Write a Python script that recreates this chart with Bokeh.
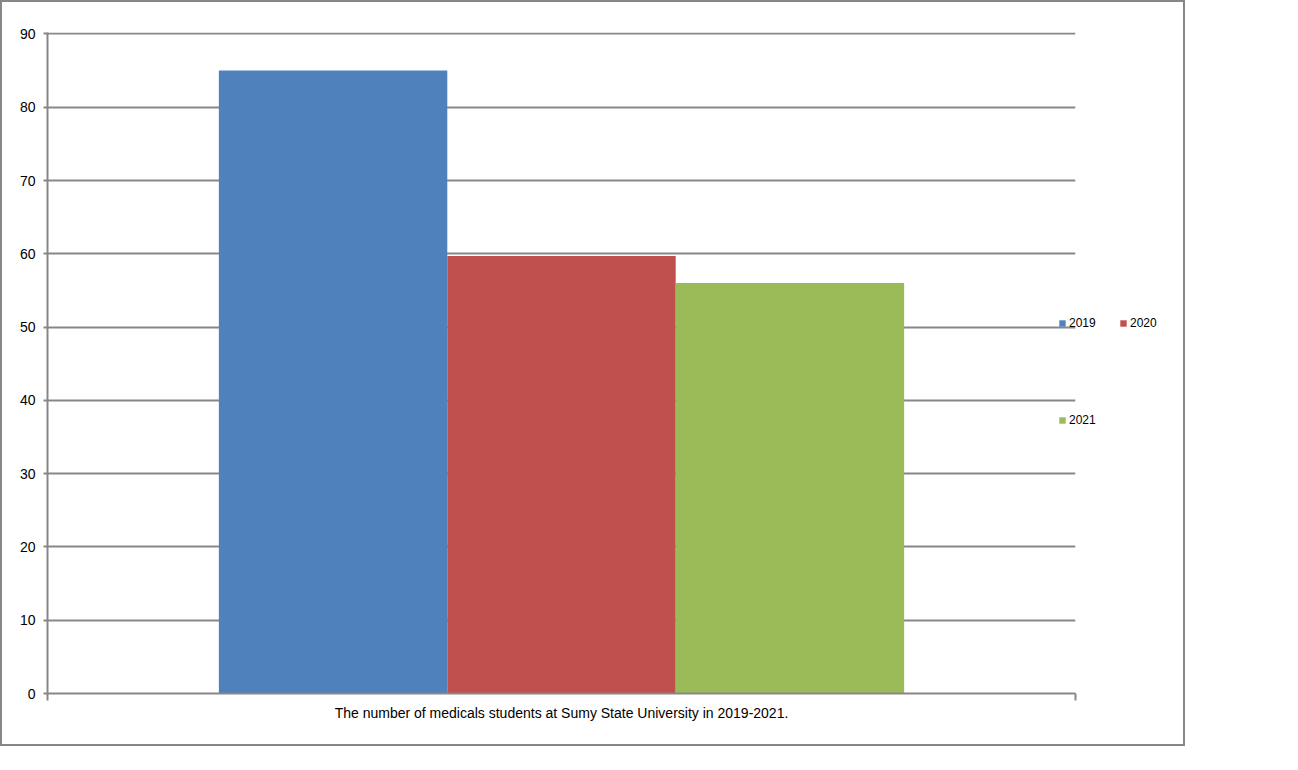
from bokeh.plotting import figure
from bokeh.models import Range1d, Legend, LegendItem, FixedTicker
from bokeh.transform import dodge
from bokeh.embed import file_html
from bokeh.resources import INLINE

years = ["2019", "2020", "2021"]
values = [85, 59.7, 56]
colors = ["#4F81BD", "#C0504D", "#9BBB59"]
y_ticks = [0, 10, 20, 30, 40, 50, 60, 70, 80, 90]
title_text = "The number of medicals students at Sumy State University in 2019-2021."

GRID = "#878787"

p = figure(width=1183, height=744, frame_width=1028, frame_height=661,
           output_backend="svg", toolbar_location=None,
           x_range=Range1d(0, 1), y_range=Range1d(0, 90.2),
           min_border_left=45, min_border_right=110, min_border_top=30, min_border_bottom=53)
p.styles = {"border": "2px solid #878787", "width": "1185px", "height": "746px",
            "overflow": "hidden"}
p.outline_line_color = None
p.background_fill_color = "white"
p.border_fill_color = "white"

bw = 0.2222
offsets = [-bw, 0, bw]
renderers = []
for yr, v, c, off in zip(years, values, colors, offsets):
    r = p.vbar(x=dodge("x", off), top="top", width=bw, bottom=0,
               source={"x": [0.5], "top": [v]}, fill_color=c, line_color=None)
    renderers.append(r)

p.xgrid.visible = False
p.ygrid.ticker = FixedTicker(ticks=y_ticks)
p.ygrid.grid_line_color = GRID
p.ygrid.grid_line_width = 2

p.yaxis.ticker = FixedTicker(ticks=y_ticks)
p.yaxis.axis_line_color = GRID
p.yaxis.axis_line_width = 2
p.yaxis.major_tick_line_color = GRID
p.yaxis.major_tick_line_width = 2
p.yaxis.major_tick_in = 0
p.yaxis.major_tick_out = 4
p.yaxis.minor_tick_line_color = None
p.yaxis.major_label_text_font = "Liberation Sans"
p.yaxis.major_label_text_font_size = "14px"
p.yaxis.major_label_text_color = "black"
p.yaxis.major_label_standoff = 8

p.xaxis.ticker = FixedTicker(ticks=[0, 1])
p.xaxis.major_label_overrides = {0: "", 1: ""}
p.xaxis.major_label_text_font_size = "1px"
p.xaxis.axis_line_color = GRID
p.xaxis.axis_line_width = 2
p.xaxis.major_tick_line_color = GRID
p.xaxis.major_tick_line_width = 2
p.xaxis.major_tick_in = 0
p.xaxis.major_tick_out = 7
p.xaxis.minor_tick_line_color = None
p.xaxis.axis_label = title_text
p.xaxis.axis_label_text_font = "Liberation Sans"
p.xaxis.axis_label_text_font_size = "14px"
p.xaxis.axis_label_text_font_style = "normal"
p.xaxis.axis_label_text_color = "black"
p.xaxis.axis_label_standoff = 4

lg = Legend(items=[LegendItem(label=y, renderers=[r]) for y, r in zip(years, renderers)],
            location=(-17, 235), orientation="horizontal", ncols=2,
            glyph_width=8, glyph_height=8, label_standoff=3, spacing=20,
            label_width=30, label_height=77,
            padding=0, margin=0, border_line_color=None,
            background_fill_alpha=0, label_text_font="Liberation Sans",
            label_text_font_size="12px", label_text_color="black")
p.add_layout(lg, "right")

open("out.html", "w").write(file_html(p, INLINE))
